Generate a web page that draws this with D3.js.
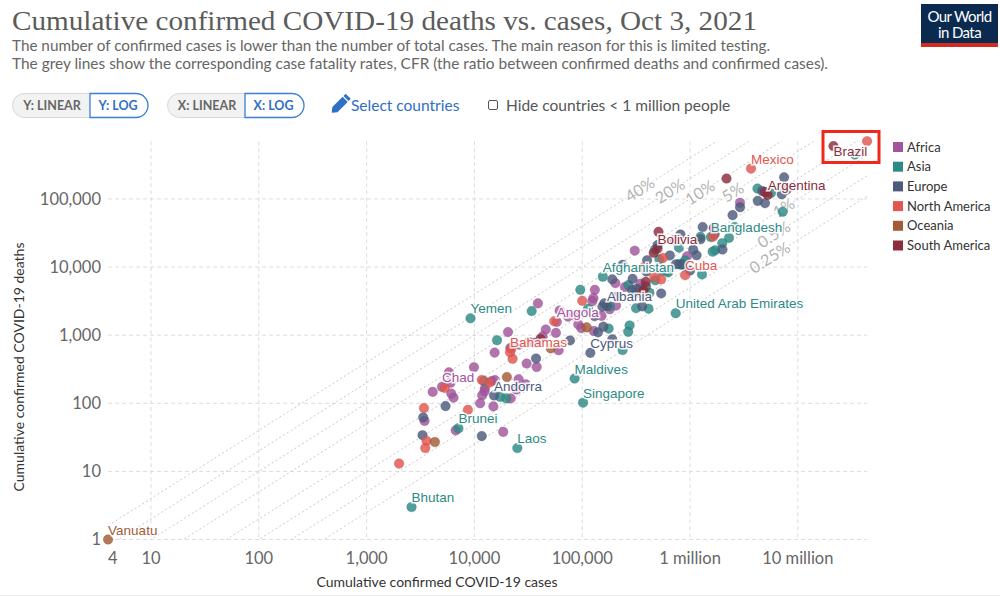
<!DOCTYPE html>
<html><head><meta charset="utf-8">
<script src="https://cdn.jsdelivr.net/npm/d3@7"></script>
<style>
body{margin:0;background:#fff;}
svg text{font-family:Lato,"Noto Sans",sans-serif;}
</style></head><body>
<svg id="chart" width="1000" height="597"></svg>
<script>
const continents = ["Africa","Asia","Europe","North America","Oceania","South America"];
const continentColors = ["#a2559c","#2d8a85","#4d5b7c","#e2564f","#a45c36","#8c2c3c"];

// [country, cumulative confirmed cases, cumulative confirmed deaths]
const africa = [
 ["South Africa",2906000,88000],["Morocco",938000,14400],["Tunisia",709000,24900],["Ethiopia",348000,5700],
 ["Libya",343000,4750],["Egypt",307000,17400],["Kenya",249000,5100],["Zambia",209000,3650],["Nigeria",206000,2720],
 ["Algeria",203000,5800],["Botswana",180000,2400],["Mozambique",151000,1920],["Zimbabwe",131000,4630],["Ghana",128000,1150],
 ["Namibia",127000,3500],["Uganda",124000,3160],["Rwanda",98000,1270],["Cameroon",92000,1440],["Senegal",73900,1870],
 ["Malawi",61700,2290],["Cote d'Ivoire",60500,600],["Angola",58100,1570],["Democratic Republic of Congo",57000,1080],
 ["Eswatini",45900,1210],["Madagascar",42900,960],["Sudan",38800,2930],["Cape Verde",37800,341],["Mauritania",35900,775],
 ["Guinea",30500,383],["Gabon",30000,190],["Tanzania",26000,725],["Togo",25700,225],["Benin",24600,159],["Seychelles",21700,118],
 ["Lesotho",21500,650],["Somalia",20500,1110],["Burundi",18500,38],["Mauritius",15000,90],["Mali",15400,555],["Congo",15500,219],
 ["Burkina Faso",14500,212],["Djibouti",12500,166],["Equatorial Guinea",12400,150],["South Sudan",11800,131],
 ["Central African Republic",11300,100],["Gambia",9900,338],["Eritrea",6700,40],["Sierra Leone",6400,121],
 ["Guinea-Bissau",6100,139],["Niger",6000,200],["Liberia",5800,285],["Chad",5000,174],["Comoros",4100,147],
 ["Sao Tome and Principe",3450,55]
];
const asia = [
 ["India",33800000,448600],["Turkey",7230000,64800],["Iran",5620000,121600],["Indonesia",4220000,142300],
 ["Philippines",2590000,38800],["Malaysia",2300000,26900],["Iraq",1990000,22400],["Japan",1710000,17700],
 ["Thailand",1620000,16800],["Bangladesh",1560000,27600],["Israel",1290000,7800],["Pakistan",1250000,27800],
 ["Kazakhstan",900000,12500],["Jordan",831000,10800],["Vietnam",790000,19300],["Nepal",795000,11100],
 ["United Arab Emirates",736000,2100],["Lebanon",627000,8330],["Georgia",616000,8900],["Saudi Arabia",547000,8710],
 ["Sri Lanka",520000,13000],["Azerbaijan",477000,6400],["Myanmar",473000,18000],["Palestine",420000,4200],
 ["Kuwait",412000,2450],["South Korea",316000,2490],["Oman",304000,4090],["Bahrain",275000,1390],["Armenia",268000,5430],
 ["Mongolia",267000,1120],["Qatar",237000,605],["Kyrgyzstan",180000,2650],["Uzbekistan",176000,1250],
 ["Afghanistan",155300,7210],["Cambodia",113000,2440],["Singapore",101800,102],["China",96000,4636],["Maldives",85000,231],
 ["Syria",34000,2260],["Laos",25000,22],["Timor",19700,118],["Tajikistan",17300,124],["Taiwan",16200,843],
 ["Hong Kong",12200,213],["Yemen",9200,1770],["Brunei",7100,43],["Bhutan",2610,3]
];
const europe = [
 ["Russia",7460000,208100],["United Kingdom",7880000,137000],["France",7090000,117300],["Spain",4960000,86600],
 ["Italy",4680000,130900],["Germany",4250000,93900],["Poland",2910000,75600],["Ukraine",2480000,57900],
 ["Netherlands",2000000,18100],["Czechia",1690000,30400],["Romania",1310000,38700],["Belgium",1250000,25600],
 ["Sweden",1150000,14900],["Portugal",1070000,18000],["Serbia",1000000,8900],["Switzerland",838000,11000],
 ["Hungary",815000,30100],["Austria",740000,11000],["Greece",650000,14800],["Belarus",540000,4100],["Bulgaria",500000,21000],
 ["Slovakia",400000,12600],["Croatia",394000,8600],["Ireland",390000,5200],["Denmark",360000,2650],["Lithuania",320000,4800],
 ["Moldova",293000,6700],["Slovenia",290000,4600],["Bosnia and Herzegovina",237000,10800],["Norway",190000,870],
 ["North Macedonia",190000,6600],["Albania",170000,2700],["Kosovo",160000,2930],["Estonia",157000,1330],["Latvia",154000,2620],
 ["Finland",140000,1100],["Montenegro",130000,1900],["Cyprus",119000,550],["Luxembourg",77000,836],["Malta",37300,455],
 ["Andorra",15200,130],["Iceland",11700,33],["San Marino",5400,91],["Liechtenstein",3350,62],["Monaco",3300,34]
];
const northAmerica = [
 ["United States",43900000,705000],["Mexico",3680000,279000],["Canada",1640000,27900],["Cuba",900000,7600],
 ["Guatemala",560000,13600],["Costa Rica",540000,6600],["Panama",466000,7200],["Honduras",370000,9900],
 ["Dominican Republic",360000,4050],["El Salvador",100000,3200],["Jamaica",87000,1930],["Trinidad and Tobago",55000,1600],
 ["Belize",22600,450],["Haiti",22000,630],["Bahamas",21400,561],["Nicaragua",13800,202],["Saint Lucia",11700,220],
 ["Barbados",8700,80],["Grenada",5300,168],["Antigua and Barbuda",3400,85],["Dominica",3600,28],
 ["Saint Vincent and the Grenadines",3500,22],["Saint Kitts and Nevis",2000,13]
];
const oceania = [
 ["Australia",110000,1300],["Fiji",51000,640],["Papua New Guinea",20000,243],["New Zealand",4300,27],["Vanuatu",4,1]
];
const southAmerica = [
 ["Brazil",21400000,598000],["Argentina",5250000,115000],["Colombia",4960000,126000],["Peru",2180000,199600],
 ["Chile",1660000,37500],["Ecuador",510000,32900],["Bolivia",500000,18700],["Paraguay",460000,16200],
 ["Uruguay",389000,6070],["Venezuela",370000,4500],["Suriname",41000,880],["Guyana",32000,790]
];
const labeledCountries = ["Mexico","Argentina","Bangladesh","Bolivia","Afghanistan","Cuba","Albania","United Arab Emirates",
 "Yemen","Angola","Bahamas","Cyprus","Maldives","Chad","Andorra","Singapore","Brunei","Laos","Bhutan","Vanuatu","Brazil"];

const cfrRates = [0.4,0.2,0.1,0.05,0.02,0.01,0.005,0.0025];
const cfrLabels = ["40%","20%","10%","5%","2%","1%","0.5%","0.25%"];
const cfrLabelCases = [343000,652000,1240000,2500000,null,7400000,6000000,5500000];

const xTicks = [4,10,100,1000,10000,100000,1000000,10000000];
const xTickLabels = ["4","10","100","1,000","10,000","100,000","1 million","10 million"];
const yTicks = [1,10,100,1000,10000,100000];
const yTickLabels = ["1","10","100","1,000","10,000","100,000"];

const groups = [africa, asia, europe, northAmerica, oceania, southAmerica];
const data = [];
groups.forEach((g,i)=>g.forEach(r=>data.push({name:r[0],cases:r[1],deaths:r[2],cont:i})));

const svg = d3.select("#chart");
const L = 108.1, R = 867.1, T = 141.2, B = 539.5;
const x = d3.scaleLog().domain(d3.extent(data,d=>d.cases)).range([L,R]);
const y = d3.scaleLog().domain(d3.extent(data,d=>d.deaths)).range([B,T]);

// Header
svg.append("text").attr("x",12).attr("y",30).style("font-family","'Liberation Serif',serif")
  .attr("font-size",28).attr("fill","#5b5b5b").attr("textLength",745).attr("lengthAdjust","spacingAndGlyphs")
  .text("Cumulative confirmed COVID-19 deaths vs. cases, Oct 3, 2021");
svg.append("text").attr("x",12).attr("y",51).attr("font-size",15).attr("fill","#666")
  .attr("textLength",758).attr("lengthAdjust","spacingAndGlyphs")
  .text("The number of confirmed cases is lower than the number of total cases. The main reason for this is limited testing.");
svg.append("text").attr("x",12).attr("y",69).attr("font-size",15).attr("fill","#666")
  .attr("textLength",816).attr("lengthAdjust","spacingAndGlyphs")
  .text("The grey lines show the corresponding case fatality rates, CFR (the ratio between confirmed deaths and confirmed cases).");

// Logo
const logo = svg.append("g");
logo.append("rect").attr("x",921).attr("y",4).attr("width",77).attr("height",43).attr("fill","#0b2a4f");
logo.append("rect").attr("x",921).attr("y",43).attr("width",77).attr("height",4).attr("fill","#d42b21");
logo.append("text").attr("x",959.5).attr("y",21.5).attr("text-anchor","middle").attr("font-size",15).attr("fill","#fff").attr("letter-spacing",-0.6).text("Our World");
logo.append("text").attr("x",959.5).attr("y",38).attr("text-anchor","middle").attr("font-size",15).attr("fill","#fff").attr("letter-spacing",-0.6).text("in Data");

// Controls
function toggle(x0, xMid, x1, leftText, rightText){
  const g = svg.append("g");
  g.append("rect").attr("x",x0+0.5).attr("y",93.5).attr("width",x1-x0-1).attr("height",24).attr("rx",12)
    .attr("fill","#f2f2f2").attr("stroke","#d8d8d8");
  const r = 12;
  g.append("path").attr("d",`M${xMid},93.5 H${x1-r} A${r},${r} 0 0 1 ${x1-r},117.5 H${xMid} Z`)
    .attr("fill","#fff").attr("stroke","#3b7dd8").attr("stroke-width",1.3);
  g.append("text").attr("x",(x0+xMid)/2+1).attr("y",109.5).attr("text-anchor","middle").attr("font-size",12.5)
    .attr("font-weight",700).attr("fill","#666").text(leftText);
  g.append("text").attr("x",(xMid+x1)/2-1).attr("y",109.5).attr("text-anchor","middle").attr("font-size",12.5)
    .attr("font-weight",700).attr("fill","#2f6fc4").text(rightText);
}
toggle(12,90,148,"Y: LINEAR","Y: LOG");
toggle(167,245,304,"X: LINEAR","X: LOG");
const pencil = svg.append("g").attr("transform","translate(339.5,105) rotate(-45)");
pencil.append("path").attr("d","M-11,0 L-6.5,-3.6 L8,-3.6 L8,3.6 L-6.5,3.6 Z").attr("fill","#2f6fc4");
pencil.append("rect").attr("x",9.3).attr("y",-3.6).attr("width",3).attr("height",7.2).attr("fill","#2f6fc4");
svg.append("text").attr("x",351).attr("y",110.5).attr("font-size",15.5).attr("fill","#2f6fc4").text("Select countries");
svg.append("rect").attr("x",488.5).attr("y",100.5).attr("width",9).attr("height",9).attr("rx",1.5)
  .attr("fill","#fff").attr("stroke","#555").attr("stroke-width",1);
svg.append("text").attr("x",506).attr("y",110.5).attr("font-size",15.5).attr("fill","#555").text("Hide countries < 1 million people");

// Grid
const grid = svg.append("g");
xTicks.filter(t=>t>=10).forEach(t=>{
  grid.append("line").attr("x1",x(t)).attr("x2",x(t)).attr("y1",T).attr("y2",B)
    .attr("stroke","#ddd").attr("stroke-dasharray","4,3");
});
yTicks.forEach(t=>{
  grid.append("line").attr("x1",L).attr("x2",R).attr("y1",y(t)).attr("y2",y(t))
    .attr("stroke","#ddd").attr("stroke-dasharray","4,3");
});

// Axis tick labels
xTicks.forEach((t,i)=>{
  svg.append("text").attr("x",x(t)).attr("y",564)
    .attr("text-anchor",i===0?"start":"middle").attr("font-size",16.5).attr("fill","#666").text(xTickLabels[i]);
});
yTicks.forEach((t,i)=>{
  svg.append("text").attr("x",101).attr("y",y(t)).attr("dy","0.35em")
    .attr("text-anchor","end").attr("font-size",16.5).attr("fill","#666").text(yTickLabels[i]);
});
svg.append("text").attr("x",437).attr("y",587).attr("text-anchor","middle").attr("font-size",14).attr("fill","#333")
  .text("Cumulative confirmed COVID-19 cases");
svg.append("text").attr("transform","translate(24,367) rotate(-90)").attr("text-anchor","middle").attr("font-size",14).attr("fill","#333")
  .text("Cumulative confirmed COVID-19 deaths");

// CFR lines
svg.append("clipPath").attr("id","plotclip").append("rect").attr("x",L).attr("y",T).attr("width",R-L).attr("height",B-T);
const cfr = svg.append("g").attr("clip-path","url(#plotclip)");
const [xmin,xmax] = x.domain();
cfrRates.forEach(r=>{
  cfr.append("line").attr("x1",x(xmin)).attr("y1",y(r*xmin)).attr("x2",x(xmax)).attr("y2",y(r*xmax))
    .attr("stroke","#c8c8c8").attr("stroke-dasharray","2,2.5").attr("stroke-width",1);
});
cfrRates.forEach((r,i)=>{
  const c = cfrLabelCases[i];
  if(!c) return;
  const px = x(c), py = y(r*c);
  const ang = Math.atan2(y(r*c*10)-py, x(c*10)-px)*180/Math.PI;
  svg.append("text").attr("transform",`translate(${px},${py}) rotate(${ang})`).attr("text-anchor","middle")
    .attr("dy","0.35em").attr("font-size",16).attr("fill","#b3b3b3")
    .attr("stroke","#fff").attr("stroke-width",3).attr("paint-order","stroke").text(cfrLabels[i]);
});

// Dots
svg.append("g").selectAll("circle").data(data).join("circle")
  .attr("cx",d=>x(d.cases)).attr("cy",d=>y(d.deaths)).attr("r",4.8)
  .attr("fill",d=>continentColors[d.cont]).attr("fill-opacity",0.82)
  .attr("stroke",d=>d3.color(continentColors[d.cont]).darker(0.6)).attr("stroke-opacity",0.5).attr("stroke-width",0.6);

// Country labels
const lab = data.filter(d=>labeledCountries.includes(d.name));
svg.append("g").selectAll("text").data(lab).join("text")
  .attr("x",d=>x(d.cases))
  .attr("y",d=>{const py=y(d.deaths); return (py-5-10<T)? py+10 : py-5;})
  .style("font-family","'Liberation Sans',Arial,sans-serif")
  .attr("font-size",13.5).attr("fill",d=>continentColors[d.cont])
  .attr("stroke","#fff").attr("stroke-width",3).attr("stroke-opacity",0.9).attr("paint-order","stroke")
  .text(d=>d.name);

// Legend
continents.forEach((c,i)=>{
  const cy = 147 + i*19.7;
  svg.append("rect").attr("x",893).attr("y",cy-5).attr("width",10).attr("height",10).attr("fill",continentColors[i]);
  svg.append("text").attr("x",907).attr("y",cy).attr("dy","0.35em").attr("font-size",13).attr("fill","#333").text(c);
});

// Highlight box
svg.append("rect").attr("x",823).attr("y",131.5).attr("width",56).attr("height",31).attr("fill","none")
  .attr("stroke","#f2271b").attr("stroke-width",3);

svg.append("line").attr("x1",0).attr("x2",1000).attr("y1",595.5).attr("y2",595.5).attr("stroke","#eee");
</script>
</body></html>
